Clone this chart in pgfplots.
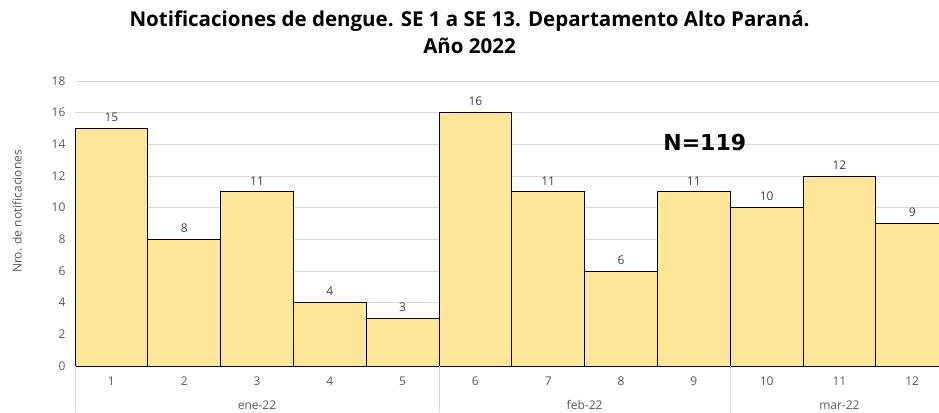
\documentclass[border=0pt]{standalone}
\usepackage{fontspec}
\setmainfont{Open Sans}
\newfontfamily\nfont{DejaVu Sans}
\usepackage{pgfplots}
\pgfplotsset{compat=1.18}
\definecolor{barfill}{HTML}{FFE699}
\definecolor{gridc}{HTML}{D9D9D9}
\definecolor{axc}{HTML}{BFBFBF}
\definecolor{txt}{HTML}{595959}
\definecolor{lbl}{HTML}{404040}
\begin{document}
\begin{tikzpicture}[x=1pt,y=1pt]
\useasboundingbox (0,0) rectangle (939,412);
\node[font=\bfseries\fontsize{20.5}{27}\selectfont, align=center] at (469.5,379.5) {Notificaciones de dengue. SE 1 a SE 13. Departamento Alto Paraná.\\Año 2022};
\begin{axis}[at={(75pt,46pt)}, anchor=south west, scale only axis,
  width=864pt, height=285pt,
  xmin=-0.5, xmax=11.368, ymin=0, ymax=18,
  ytick={0,2,...,18},
  xtick={0,...,11}, xticklabels={1,2,3,4,5,6,7,8,9,10,11,12},
  /pgf/number format/assume math mode=true,
  axis x line*=bottom, axis y line*=left,
  y axis line style={draw=none},
  x axis line style={draw=axc, line width=0.8pt},
  major tick length=0pt,
  ymajorgrids, grid style={gridc, line width=0.8pt},
  ticklabel style={font=\fontsize{12}{14}\selectfont, text=txt},
  xticklabel style={yshift=-7pt},
  yticklabel style={xshift=-6pt},
  clip=false,
  ybar, bar width=1,
  nodes near coords,
  every node near coord/.append style={font=\fontsize{12}{14}\selectfont, text=lbl, yshift=3pt},
]
\addplot[fill=barfill, draw=black, line width=0.9pt] coordinates {
(0,15) (1,8) (2,11) (3,4) (4,3) (5,16) (6,11) (7,6) (8,11) (9,10) (10,12) (11,9)};
\draw[gridc, line width=0.8pt] (axis cs:-0.5,0) -- ++(0pt,-46pt);
\draw[gridc, line width=0.8pt] (axis cs:4.5,0) -- ++(0pt,-46pt);
\draw[gridc, line width=0.8pt] (axis cs:8.5,0) -- ++(0pt,-46pt);
\node[font=\fontsize{12}{14}\selectfont, text=txt] at ([yshift=-39pt]axis cs:2,0) {ene-22};
\node[font=\fontsize{12}{14}\selectfont, text=txt] at ([yshift=-39pt]axis cs:6.5,0) {feb-22};
\node[font=\fontsize{12}{14}\selectfont, text=txt] at ([yshift=-39pt]axis cs:10,0) {mar-22};
\node[rotate=90, font=\fontsize{12}{14}\selectfont, text=txt] at ([xshift=-58pt,yshift=12pt]rel axis cs:0,0.5) {Nro. de notificaciones};
\node[font=\nfont\bfseries\fontsize{22}{26}\selectfont, text=black] at (axis cs:8.15,14.1) {N=119};
\end{axis}
\end{tikzpicture}
\end{document}
